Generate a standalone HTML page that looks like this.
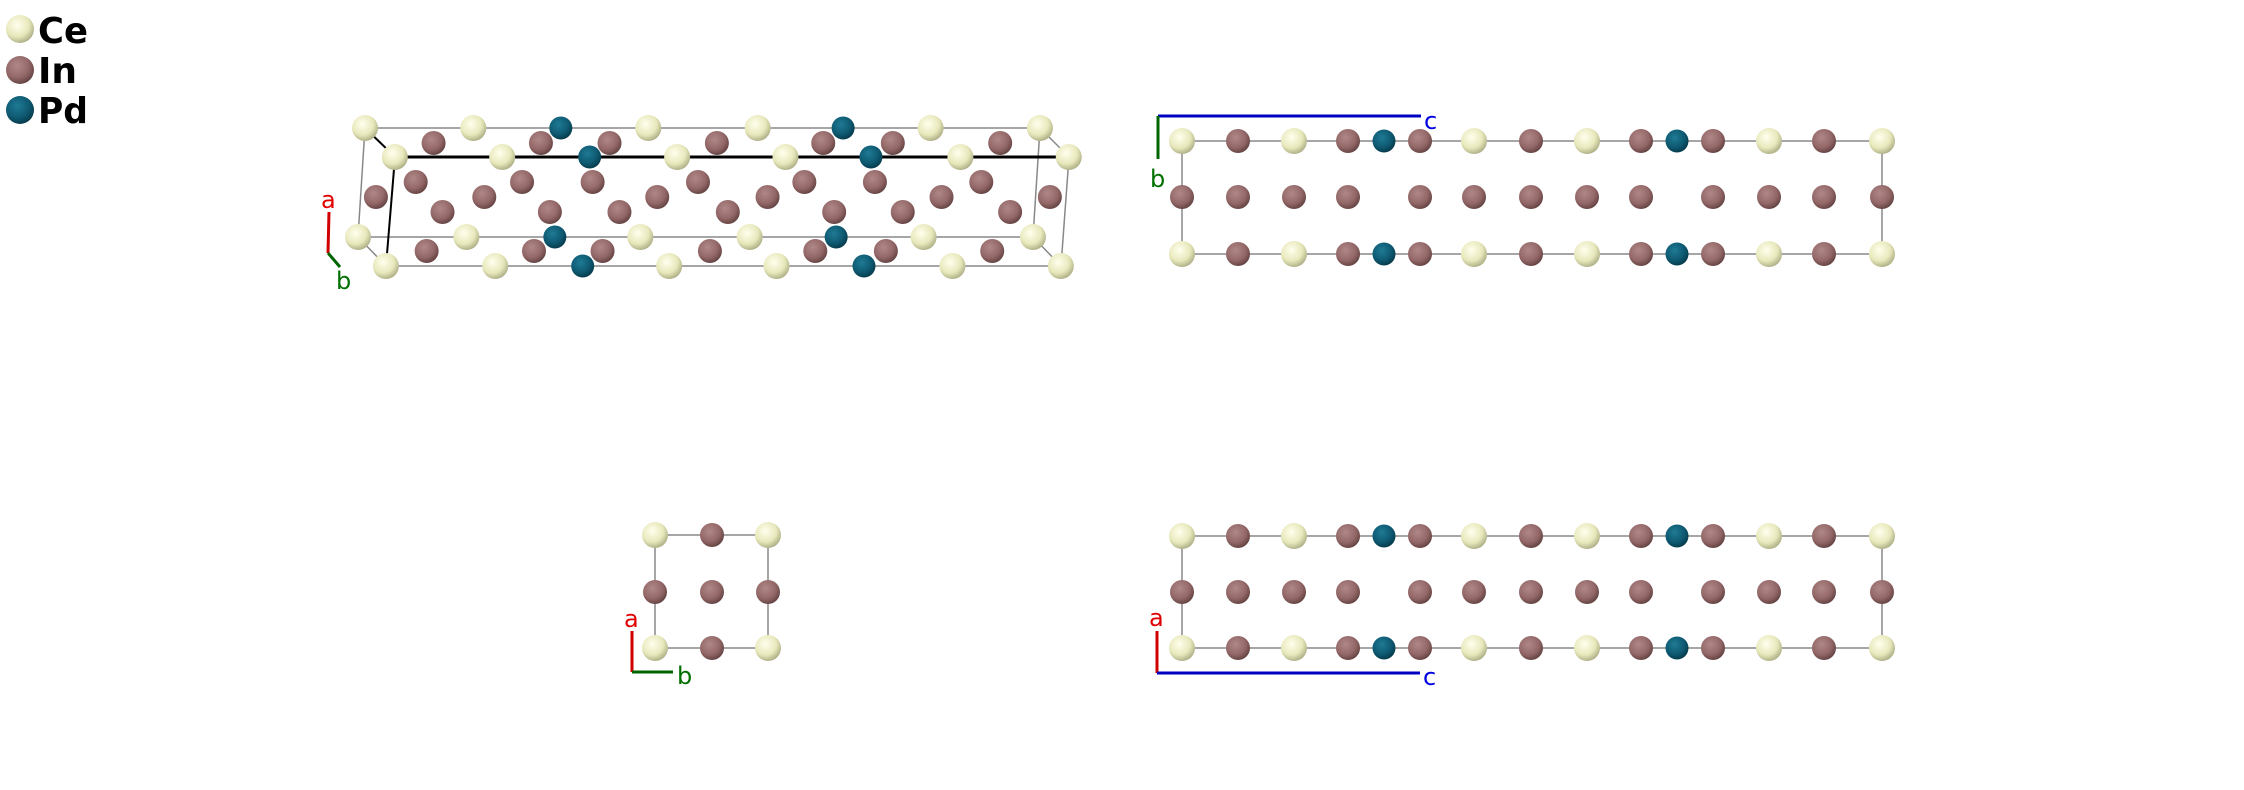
<!DOCTYPE html>
<html><head><meta charset="utf-8"><style>
html,body{margin:0;padding:0;background:#fff;}
svg{display:block}
text{font-family:"DejaVu Sans","Liberation Sans",sans-serif;}
</style></head><body>
<svg id="s" width="2244" height="790" viewBox="0 0 2244 790" xmlns="http://www.w3.org/2000/svg">
<defs>
<radialGradient id="gCe" cx="0.4" cy="0.35" r="0.7"><stop offset="0" stop-color="#ffffee"/><stop offset="0.6" stop-color="#e8e8bc"/><stop offset="1" stop-color="#a8a880"/></radialGradient>
<radialGradient id="gIn" cx="0.4" cy="0.35" r="0.7"><stop offset="0" stop-color="#b08888"/><stop offset="0.6" stop-color="#946868"/><stop offset="1" stop-color="#5e3e3e"/></radialGradient>
<radialGradient id="gPd" cx="0.4" cy="0.35" r="0.7"><stop offset="0" stop-color="#1f7a94"/><stop offset="0.6" stop-color="#0e5a72"/><stop offset="1" stop-color="#063646"/></radialGradient>
</defs>
<g stroke="#888" stroke-width="1.5" fill="none">
<line x1="365" y1="128" x2="1040" y2="128"/>
<line x1="358" y1="237" x2="1033" y2="237"/>
<line x1="386" y1="266" x2="1061" y2="266"/>
<line x1="365" y1="128" x2="358" y2="237"/>
<line x1="1040" y1="128" x2="1033" y2="237"/>
<line x1="1069" y1="157" x2="1061" y2="266"/>
<line x1="358" y1="237" x2="386" y2="266"/>
<line x1="1040" y1="128" x2="1069" y2="157"/>
<line x1="1033" y1="237" x2="1061" y2="266"/>
<rect x="1182" y="141" width="700" height="113"/>
<rect x="1182" y="536" width="700" height="112"/>
<rect x="655" y="535" width="113" height="113"/>
</g>
<g stroke="#000" stroke-width="3">
<line x1="395" y1="157" x2="1069" y2="157"/>
</g>
<g stroke="#000" stroke-width="2">
<line x1="365" y1="128" x2="390" y2="152"/>
<line x1="395" y1="157" x2="386" y2="266"/>
</g>
<g id="balls"></g>
<g stroke-width="3">
<line x1="329" y1="212" x2="328" y2="253" stroke="#d00000"/>
<line x1="328" y1="253" x2="340" y2="267" stroke="#006400"/>
<line x1="1158" y1="116" x2="1421" y2="116" stroke="#0000c0"/>
<line x1="1158" y1="116" x2="1158" y2="159" stroke="#006400"/>
<line x1="632" y1="631" x2="632" y2="672" stroke="#d00000"/>
<line x1="632" y1="672" x2="673" y2="672" stroke="#006400"/>
<line x1="1157" y1="631" x2="1157" y2="673" stroke="#d00000"/>
<line x1="1157" y1="673" x2="1420" y2="673" stroke="#0000c0"/>
</g>
<g font-size="24">
<text x="321" y="208" fill="#e00000">a</text>
<text x="336" y="289" fill="#007000">b</text>
<text x="1424" y="129" fill="#0000e0">c</text>
<text x="1150" y="187" fill="#007000">b</text>
<text x="624" y="627" fill="#e00000">a</text>
<text x="677" y="684" fill="#007000">b</text>
<text x="1149" y="626" fill="#e00000">a</text>
<text x="1423" y="685" fill="#0000e0">c</text>
</g>
<g font-size="36" font-weight="bold" fill="#000">
<text x="38" y="43" textLength="50" lengthAdjust="spacingAndGlyphs">Ce</text>
<text x="38" y="83">In</text>
<text x="38" y="123" textLength="50" lengthAdjust="spacingAndGlyphs">Pd</text>
</g>
</svg>
<script>
var g=document.getElementById('balls'),NS='http://www.w3.org/2000/svg';
var R={Ce:13,In:12,Pd:11.5};
function b(t,x,y,r){var c=document.createElementNS(NS,'circle');c.setAttribute('cx',x);c.setAttribute('cy',y);c.setAttribute('r',r||R[t]);c.setAttribute('fill','url(#g'+t+')');g.appendChild(c);}
b('Ce',20,29,14);b('In',20,70,14);b('Pd',20,110,14);
var rows=[
[128,[['Ce',365],['Ce',474],['Pd',562],['Ce',650],['Ce',760],['Pd',846],['Ce',934],['Ce',1044]]],
[143,[['In',434],['In',542],['In',611],['In',719],['In',826],['In',896],['In',1004]]],
[157,[['Ce',395],['Ce',503],['Pd',591],['Ce',679],['Ce',788],['Pd',874],['Ce',964],['Ce',1073]]],
[182,[['In',416],['In',523],['In',594],['In',700],['In',807],['In',878],['In',985]]],
[197,[['In',376],['In',485],['In',659],['In',770],['In',945],['In',1054]]],
[212,[['In',443],['In',551],['In',621],['In',730],['In',837],['In',906],['In',1014]]],
[237,[['Ce',358],['Ce',467],['Pd',556],['Ce',642],['Ce',752],['Pd',839],['Ce',927],['Ce',1037]]],
[251,[['In',427],['In',535],['In',604],['In',712],['In',818],['In',889],['In',996]]],
[266,[['Ce',386],['Ce',496],['Pd',584],['Ce',671],['Ce',779],['Pd',867],['Ce',956],['Ce',1065]]]
];
rows.forEach(function(r){r[1].forEach(function(a){b(a[0],365+(a[1]-365)*0.994,r[0]);});});
var X=[1182,1238,1294,1348,1384,1420,1474,1531,1587,1641,1677,1713,1769,1824,1882];
var T=['Ce','In','Ce','In','Pd','In','Ce','In','Ce','In','Pd','In','Ce','In','Ce'];
function panel(y0,y1,y2){
X.forEach(function(x,i){b(T[i],x,y0);b(T[i],x,y2);if(T[i]!='Pd')b('In',x,y1);});
}
panel(141,197,254);panel(536,592,648);
b('Ce',655,535);b('In',712,535);b('Ce',768,535);
b('In',655,592);b('In',712,592);b('In',768,592);
b('Ce',655,648);b('In',712,648);b('Ce',768,648);
</script>
</body></html>
